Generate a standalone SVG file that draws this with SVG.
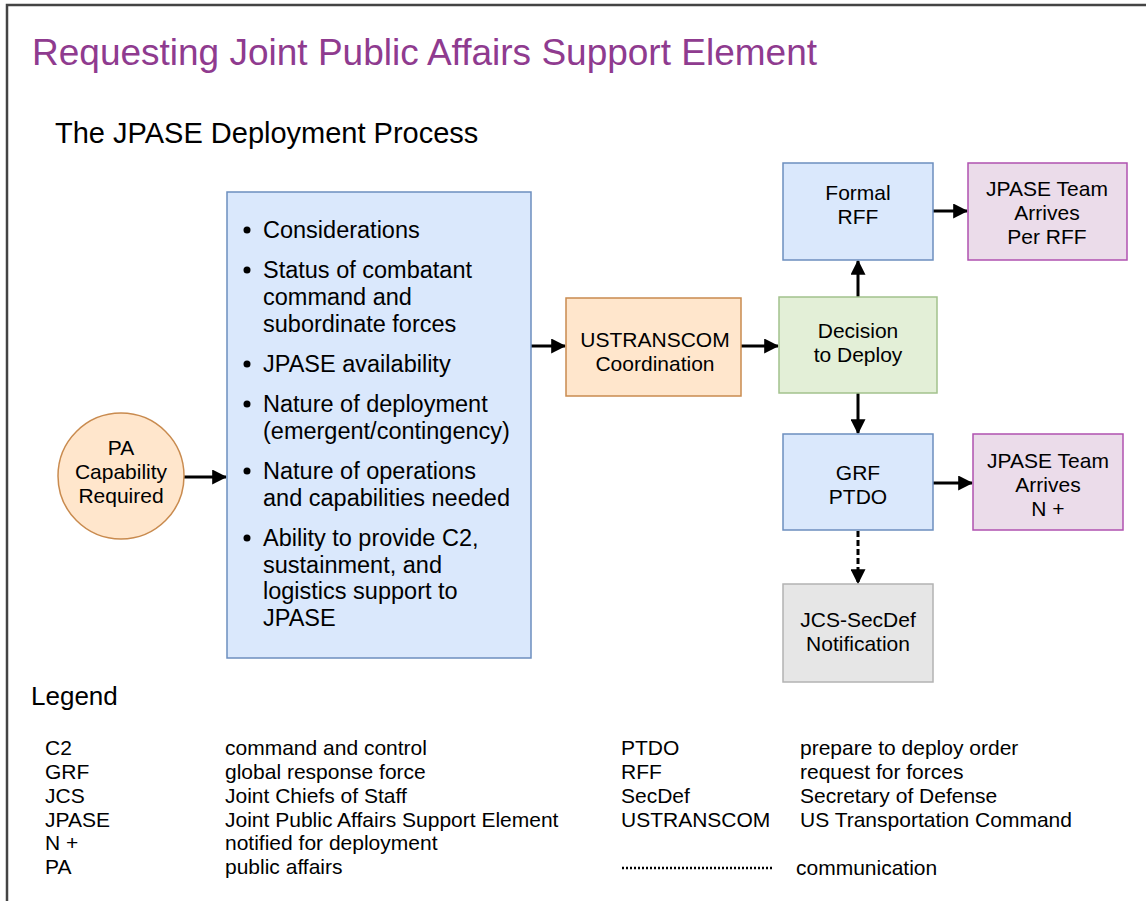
<svg xmlns="http://www.w3.org/2000/svg" width="1146" height="901" viewBox="0 0 1146 901">
<style>
text{font-family:"Liberation Sans",Arial,sans-serif;fill:#000}
.node{font-size:21px;text-anchor:middle}
.bul{font-size:23.5px}
.leg{font-size:21px}
.blue{fill:#dae8fc;stroke:#6c8ebf;stroke-width:1.5}
.orange{fill:#ffe6cc;stroke:#c98b4f;stroke-width:1.5}
.green{fill:#e3efd7;stroke:#a3c28d;stroke-width:1.5}
.purple{fill:#ebdcea;stroke:#b052b0;stroke-width:1.5}
.gray{fill:#e6e6e6;stroke:#b3b3b3;stroke-width:1.5}
.conn{stroke:#000;stroke-width:3;fill:none}
</style>
<defs>
<marker id="ah" markerWidth="5" markerHeight="5" refX="4.6" refY="2.5" orient="auto" markerUnits="strokeWidth">
<path d="M0,0 L5,2.5 L0,5 Z" fill="#000"/>
</marker>
</defs>
<rect x="0" y="0" width="1146" height="901" fill="#fff"/>
<path d="M7,901 L7,5 L1146,5" fill="none" stroke="#444" stroke-width="2.5"/>
<text x="32" y="65" style="font-size:37px;fill:#8f3b8f">Requesting Joint Public Affairs Support Element</text>
<text x="55" y="143" style="font-size:29px">The JPASE Deployment Process</text>

<g id="connectors">
<line class="conn" x1="184" y1="477" x2="226" y2="477" marker-end="url(#ah)"/>
<line class="conn" x1="531" y1="346" x2="565" y2="346" marker-end="url(#ah)"/>
<line class="conn" x1="741" y1="346" x2="778" y2="346" marker-end="url(#ah)"/>
<line class="conn" x1="858" y1="297" x2="858" y2="261" marker-end="url(#ah)"/>
<line class="conn" x1="933" y1="211" x2="967" y2="211" marker-end="url(#ah)"/>
<line class="conn" x1="858" y1="393" x2="858" y2="433" marker-end="url(#ah)"/>
<line class="conn" x1="933" y1="483" x2="972" y2="483" marker-end="url(#ah)"/>
<line class="conn" x1="858" y1="531" x2="858" y2="583" stroke-dasharray="6 3" marker-end="url(#ah)"/>
</g>

<g id="pa">
<circle class="orange" cx="121" cy="476" r="63"/>
<text class="node" x="121" y="455">PA</text>
<text class="node" x="121" y="479">Capability</text>
<text class="node" x="121" y="503">Required</text>
</g>

<g id="considerations">
<rect class="blue" x="227" y="192" width="304" height="466"/>
<g class="bul">
<circle cx="247" cy="230" r="3.5"/><text x="263" y="238">Considerations</text>
<circle cx="247" cy="270" r="3.5"/><text x="263" y="278">Status of combatant</text>
<text x="263" y="305">command and</text>
<text x="263" y="332">subordinate forces</text>
<circle cx="247" cy="364" r="3.5"/><text x="263" y="372">JPASE availability</text>
<circle cx="247" cy="404" r="3.5"/><text x="263" y="412">Nature of deployment</text>
<text x="263" y="439">(emergent/contingency)</text>
<circle cx="247" cy="471" r="3.5"/><text x="263" y="479">Nature of operations</text>
<text x="263" y="506">and capabilities needed</text>
<circle cx="247" cy="538" r="3.5"/><text x="263" y="546">Ability to provide C2,</text>
<text x="263" y="573">sustainment, and</text>
<text x="263" y="599">logistics support to</text>
<text x="263" y="626">JPASE</text>
</g>
</g>

<g id="ustranscom">
<rect class="orange" x="566" y="298" width="175" height="98"/>
<text class="node" x="655" y="347">USTRANSCOM</text>
<text class="node" x="655" y="371">Coordination</text>
</g>

<g id="decision">
<rect class="green" x="779" y="297" width="158" height="96"/>
<text class="node" x="858" y="338">Decision</text>
<text class="node" x="858" y="362">to Deploy</text>
</g>

<g id="formal-rff">
<rect class="blue" x="783" y="163" width="150" height="97"/>
<text class="node" x="858" y="200">Formal</text>
<text class="node" x="858" y="224">RFF</text>
</g>

<g id="team-rff">
<rect class="purple" x="968" y="163" width="159" height="97"/>
<text class="node" x="1047" y="196">JPASE Team</text>
<text class="node" x="1047" y="220">Arrives</text>
<text class="node" x="1047" y="244">Per RFF</text>
</g>

<g id="grf">
<rect class="blue" x="783" y="434" width="150" height="96"/>
<text class="node" x="858" y="480">GRF</text>
<text class="node" x="858" y="504">PTDO</text>
</g>

<g id="team-n">
<rect class="purple" x="973" y="434" width="150" height="96"/>
<text class="node" x="1048" y="468">JPASE Team</text>
<text class="node" x="1048" y="492">Arrives</text>
<text class="node" x="1048" y="516">N +</text>
</g>

<g id="jcs">
<rect class="gray" x="783" y="584" width="150" height="98"/>
<text class="node" x="858" y="627">JCS-SecDef</text>
<text class="node" x="858" y="651">Notification</text>
</g>

<g id="legend" class="leg">
<text x="31" y="705" style="font-size:26px">Legend</text>
<text x="45" y="755">C2</text><text x="225" y="755">command and control</text>
<text x="45" y="779">GRF</text><text x="225" y="779">global response force</text>
<text x="45" y="803">JCS</text><text x="225" y="803">Joint Chiefs of Staff</text>
<text x="45" y="827">JPASE</text><text x="225" y="827">Joint Public Affairs Support Element</text>
<text x="45" y="850">N +</text><text x="225" y="850">notified for deployment</text>
<text x="45" y="874">PA</text><text x="225" y="874">public affairs</text>
<text x="621" y="755">PTDO</text><text x="800" y="755">prepare to deploy order</text>
<text x="621" y="779">RFF</text><text x="800" y="779">request for forces</text>
<text x="621" y="803">SecDef</text><text x="800" y="803">Secretary of Defense</text>
<text x="621" y="827">USTRANSCOM</text><text x="800" y="827">US Transportation Command</text>
<line x1="622" y1="868" x2="774" y2="868" stroke="#000" stroke-width="2.5" stroke-dasharray="2 2"/>
<text x="796" y="875">communication</text>
</g>
</svg>
